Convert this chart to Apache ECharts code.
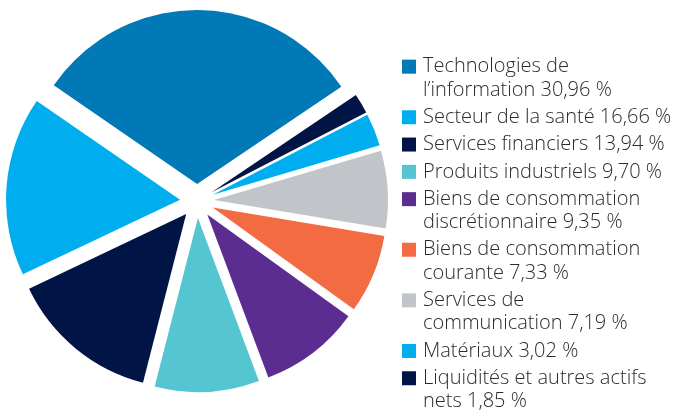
<!DOCTYPE html>
<html>
<head>
<meta charset="utf-8">
<script src="https://cdn.jsdelivr.net/npm/echarts@6/dist/echarts.min.js"></script>
<style>
  html, body { margin: 0; padding: 0; background: #fff; }
  #chart { width: 678px; height: 413px; }
</style>
</head>
<body>
<div id="chart"></div>
<script>
// sector names ('\n' = where the legend wraps)
const categories = [
  'Technologies de\nl’information',
  'Secteur de la santé',
  'Services financiers',
  'Produits industriels',
  'Biens de consommation\ndiscrétionnaire',
  'Biens de consommation\ncourante',
  'Services de\ncommunication',
  'Matériaux',
  'Liquidités et autres actifs\nnets'
]
const weights = [30.96, 16.66, 13.94, 9.70, 9.35, 7.33, 7.19, 3.02, 1.85]
const colors = ['#0079b6', '#00aeef', '#001446', '#55c5d1', '#5c2d91', '#f26b43', '#c1c4c8', '#00aeef', '#001446']

const fontFamily = '"Open Sans", Lato, sans-serif'

const rich = {
  g: { width: 7 },
  ind: { width: 21 },
  t: {}
}
colors.forEach((c, i) => {
  rich['sq' + i] = { width: 14, height: 14, backgroundColor: c }
})

function legendText(name) {
  const i = categories.indexOf(name)
  const pct = weights[i].toFixed(2).replace('.', ',') + ' %'
  const lines = (name + ' ' + pct).split('\n')
  let s = '{sq' + i + '| }{g| }{t|' + lines[0] + '}'
  for (let k = 1; k < lines.length; k++) {
    s += '\n{ind| }{t|' + lines[k] + '}'
  }
  return s
}

const chart = echarts.init(document.getElementById('chart'))
chart.setOption({
  animation: false,
  color: colors,
  legend: {
    orient: 'vertical',
    left: 397,
    top: 55,
    height: 380,
    padding: 0,
    itemWidth: 0,
    itemHeight: 0,
    itemGap: 4,
    selectedMode: false,
    data: categories,
    formatter: legendText,
    textStyle: {
      fontFamily: fontFamily,
      fontSize: 20,
      fontWeight: 300,
      color: '#2b2b2b',
      lineHeight: 23.3,
      rich: rich
    }
  },
  series: [{
    type: 'pie',
    center: [197, 201],
    radius: 174,
    startAngle: 34,
    clockwise: false,
    selectedMode: 'multiple',
    selectedOffset: 17,
    label: { show: false },
    labelLine: { show: false },
    emphasis: { disabled: true },
    itemStyle: { borderWidth: 0 },
    data: categories.map((name, i) => ({
      name: name,
      value: weights[i],
      selected: true
    }))
  }]
})
</script>
</body>
</html>
